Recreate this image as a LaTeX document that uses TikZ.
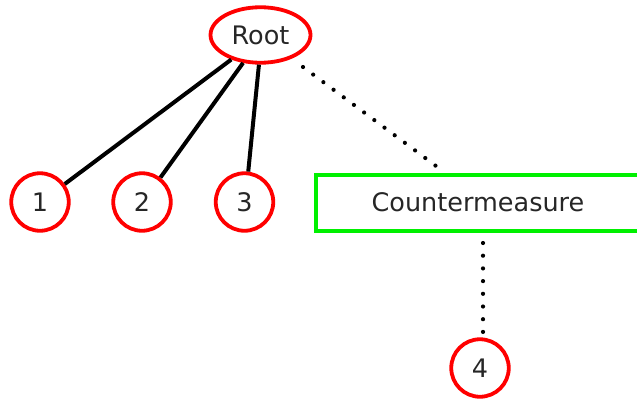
\documentclass[tikz,border=0pt]{standalone}
\usepackage{fontspec}
\setmainfont{DejaVu Sans}
\usetikzlibrary{shapes.geometric}
\definecolor{nodered}{RGB}{255,0,0}
\definecolor{cmgreen}{RGB}{0,240,0}
\tikzset{
  treetext/.style={font=\fontsize{25.5}{30}\selectfont, text=black!85},
  rootnode/.style={treetext, ellipse, draw=nodered, line width=3.8pt, inner sep=0pt,
                   minimum width=100pt, minimum height=55.5pt},
  leafnode/.style={treetext, circle, draw=nodered, line width=3.8pt, inner sep=0pt,
                   minimum size=57.5pt},
  cmbox/.style={treetext, rectangle, draw=cmgreen, line width=4pt, inner sep=0pt,
                minimum width=324pt, minimum height=56pt},
  solidedge/.style={draw=black, line width=4pt},
  dottededge/.style={draw=black, line width=4.2pt, line cap=round,
                     dash pattern=on 0pt off 12.7pt}
}
\begin{document}
\begin{tikzpicture}[x=1pt,y=-1pt]
  \useasboundingbox (0,0) rectangle (637,399);

  % attack tree nodes
  \node[rootnode] (root) at (260.5,35) {Root};
  \node[leafnode] (n1) at (40,202) {1};
  \node[leafnode] (n2) at (142,202) {2};
  \node[leafnode] (n3) at (244.5,202) {3};
  \node[cmbox]    (cm) at (478,202.5) {Countermeasure};
  \node[leafnode] (n4) at (480,368) {4};

  % attack steps
  \draw[solidedge] (root.220) -- (n1.36);
  \draw[solidedge] (root.238) -- (n2.53);
  \draw[solidedge] (root.267) -- (n3.83);

  % countermeasure links
  \draw[dottededge] ([shift={(42.5pt,-32pt)}]root.center) -- ([shift={(-42pt,6.5pt)}]cm.north);
  \draw[dottededge] ([shift={(5pt,-10.5pt)}]cm.south) -- ([shift={(3pt,3pt)}]n4.north);
\end{tikzpicture}
\end{document}
